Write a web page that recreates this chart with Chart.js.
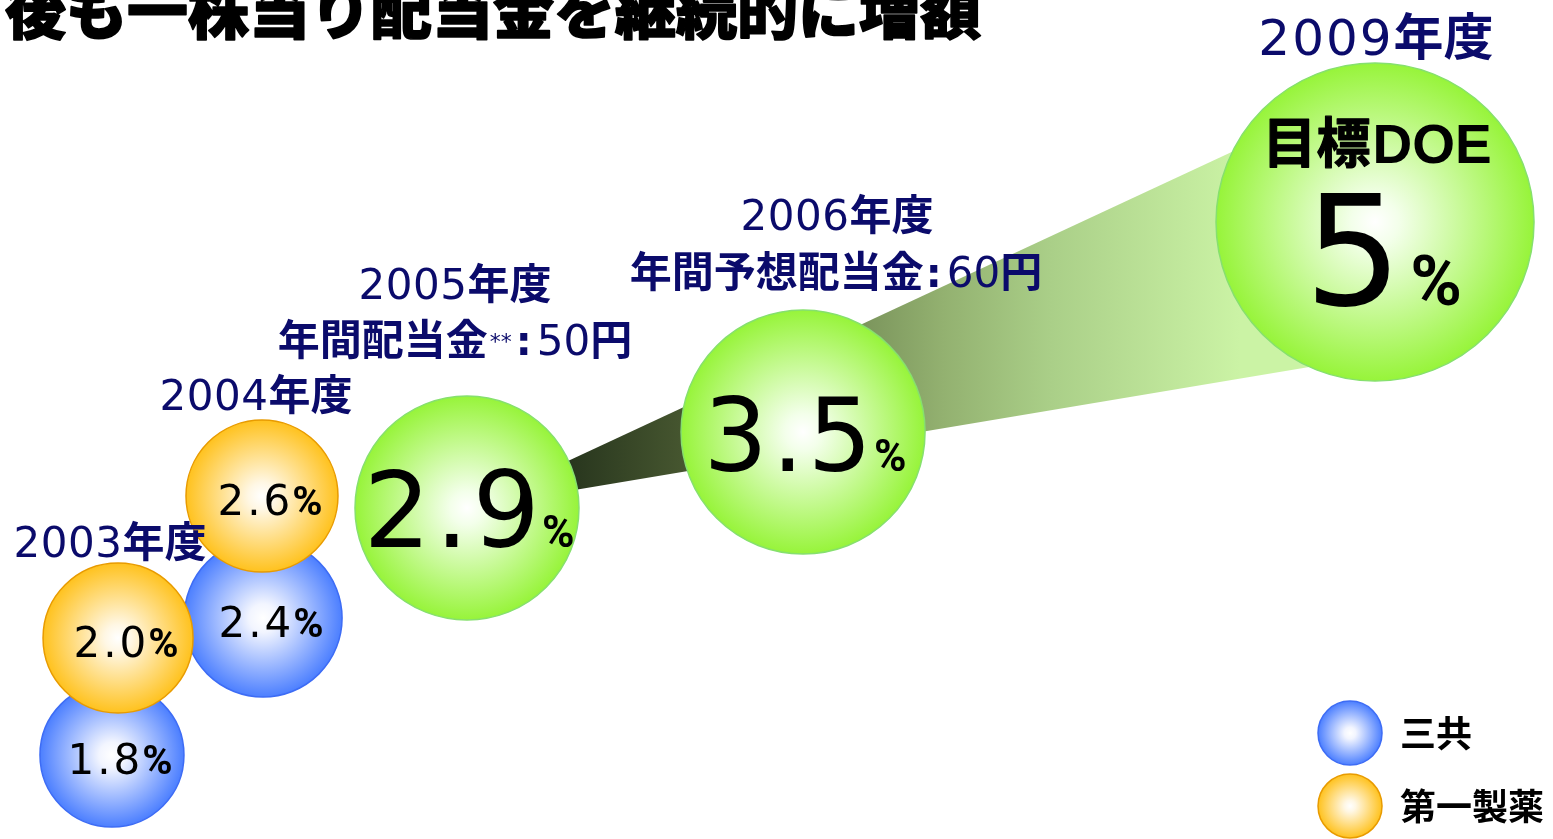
<!DOCTYPE html>
<html><head><meta charset="utf-8">
<script src="https://cdn.jsdelivr.net/npm/chart.js@4"></script>
<style>html,body{margin:0;padding:0;background:#fff;overflow:hidden}#wrap{width:1553px;height:839px;position:relative}</style>
</head><body><div id="wrap"><canvas id="c"></canvas></div>
<script>
// ---------------- data ----------------
const fiscalYears = ['2003', '2004', '2005', '2006', '2009'];
const sankyoDOE = [1.8, 2.4];          // 三共 FY2003, FY2004 (%)
const daiichiDOE = [2.0, 2.6];         // 第一製薬 FY2003, FY2004 (%)
const combinedDOE = [2.9, 3.5, 5];     // FY2005, FY2006, FY2009 target (%)
const seriesNames = ['三共', '第一製薬'];
const dividendLabels = ['年間配当金', '年間予想配当金'];
const dividendYen = [50, 60];
const targetLabel = ['目標', 'DOE'];
const titleText = '後も一株当り配当金を継続的に増額';

// ---------------- layout (percent of plot area, radius in px) ----------------
const sankyoLayout = [{x: 7.21, y: 89.99, r: 72}, {x: 16.94, y: 73.66, r: 79}];
const daiichiLayout = [{x: 7.60, y: 76.04, r: 75}, {x: 16.87, y: 59.12, r: 76}];
const combinedLayout = [{x: 30.07, y: 60.55, r: 112}, {x: 51.71, y: 51.49, r: 122}, {x: 88.54, y: 26.46, r: 159}];
const yearLabelLayout = [{x: 7.08, y: 66.39, s: 42}, {x: 16.48, y: 48.87, s: 42}, {x: 29.30, y: 35.64, s: 42}, {x: 53.90, y: 27.41, s: 42}, {x: 88.60, y: 6.56, s: 50}];
const dividendLayout = [{x: 29.30, y: 42.31}, {x: 53.83, y: 34.21}];
const titleLayout = {x: 0.32, y: 4.05};
const legendLayout = [{x: 86.93, y: 87.37}, {x: 86.93, y: 96.07}];

const NAVY = '#0b0b6b';
const CJK = '"Noto Sans CJK JP"';
const NUM = '"DejaVu Sans"';
const PCT = 'Roboto';
const LAT = '"Liberation Sans"';

const blueStops = [[0, '#ffffff'], [0.18, '#f2f5ff'], [1, '#4c7fff']];
const orangeStops = [[0, '#ffffff'], [0.18, '#fff7e4'], [1, '#ffc21e']];
const greenStops = [[0, '#ffffff'], [0.15, '#f3ffea'], [1, '#97f43a']];

function radial(stops) {
  return (c) => {
    const chart = c.chart, xs = chart.scales.x, ys = chart.scales.y;
    if (c.type !== 'data' || !xs || !ys || !chart.chartArea) return stops[stops.length - 1][1];
    const px = xs.getPixelForValue(c.raw.x), py = ys.getPixelForValue(c.raw.y), r = c.raw.r;
    const g = chart.ctx.createRadialGradient(px, py, 0, px, py, r);
    stops.forEach(s => g.addColorStop(s[0], s[1]));
    return g;
  };
}
function mk(values, layout, kind) {
  return values.map((v, i) => ({x: layout[i].x, y: layout[i].y, r: layout[i].r, v: v, kind: kind}));
}

function drawRuns(ctx, runs, x0, baseline, align) {
  let total = 0;
  runs.forEach(r => { ctx.font = r.font; ctx.letterSpacing = (r.ls || 0) + 'px'; r.w = ctx.measureText(r.text).width; total += r.w + (r.gap || 0); });
  let x = align === 'left' ? x0 : x0 - total / 2;
  ctx.textAlign = 'left'; ctx.textBaseline = 'alphabetic';
  runs.forEach(r => {
    ctx.font = r.font; ctx.letterSpacing = (r.ls || 0) + 'px'; ctx.fillStyle = r.color || '#000';
    if (r.stroke) { ctx.lineWidth = r.stroke; ctx.strokeStyle = r.color || '#000'; ctx.lineJoin = 'round'; ctx.strokeText(r.text, x, baseline + (r.dy || 0)); }
    ctx.fillText(r.text, x, baseline + (r.dy || 0));
    x += r.w + (r.gap || 0);
  });
  ctx.letterSpacing = '0px';
}

const conePlugin = {
  id: 'cone',
  beforeDatasetsDraw(chart) {
    const ctx = chart.ctx, xs = chart.scales.x, ys = chart.scales.y;
    const a = combinedLayout[0], b = combinedLayout[2];
    const ax = xs.getPixelForValue(a.x), ay = ys.getPixelForValue(a.y);
    const bx = xs.getPixelForValue(b.x), by = ys.getPixelForValue(b.y);
    const hw = b.r * 0.86;
    const x1 = ax + a.r * 0.88, x2 = bx - b.r * 0.85;
    const g = ctx.createLinearGradient(x1, 0, x2, 0);
    g.addColorStop(0, '#27351d');
    g.addColorStop(0.17, '#45552f');
    g.addColorStop(0.56, '#93b170');
    g.addColorStop(0.72, '#aacf88');
    g.addColorStop(1, '#cbf3a5');
    ctx.save();
    ctx.beginPath();
    ctx.moveTo(ax, ay);
    ctx.lineTo(bx, by - hw);
    ctx.lineTo(bx, by + hw * 0.98);
    ctx.closePath();
    ctx.fillStyle = g;
    ctx.fill();
    ctx.restore();
  }
};

const textPlugin = {
  id: 'texts',
  afterDatasetsDraw(chart) {
    const ctx = chart.ctx, xs = chart.scales.x, ys = chart.scales.y;
    const X = v => xs.getPixelForValue(v), Y = v => ys.getPixelForValue(v);
    ctx.save();
    // title
    drawRuns(ctx, [{text: titleText, font: `900 61px ${CJK}`, color: '#000', stroke: 1.6}], X(titleLayout.x), Y(titleLayout.y), 'left');
    // year labels
    fiscalYears.forEach((yr, i) => {
      const L = yearLabelLayout[i];
      drawRuns(ctx, [
        {text: yr, font: `400 ${L.s}px ${NUM}`, color: NAVY, ls: L.s > 45 ? 2 : 0.5},
        {text: '年度', font: `700 ${L.s}px ${CJK}`, color: NAVY}
      ], X(L.x), Y(L.y), 'center');
    });
    // dividend lines
    const d0 = dividendLayout[0], d1 = dividendLayout[1];
    drawRuns(ctx, [
      {text: dividendLabels[0], font: `700 42px ${CJK}`, color: NAVY, gap: 2},
      {text: '**', font: `400 22px ${NUM}`, color: NAVY, dy: -6, gap: 4},
      {text: ':', font: `700 40px ${NUM}`, color: NAVY, gap: 5},
      {text: String(dividendYen[0]), font: `400 42px ${NUM}`, color: NAVY},
      {text: '円', font: `700 42px ${CJK}`, color: NAVY}
    ], X(d0.x), Y(d0.y), 'center');
    drawRuns(ctx, [
      {text: dividendLabels[1], font: `700 42px ${CJK}`, color: NAVY, gap: 2},
      {text: ':', font: `700 40px ${NUM}`, color: NAVY, gap: 5},
      {text: String(dividendYen[1]), font: `400 42px ${NUM}`, color: NAVY},
      {text: '円', font: `700 42px ${CJK}`, color: NAVY}
    ], X(d1.x), Y(d1.y), 'center');
    // bubble value labels
    chart.data.datasets.forEach((ds, di) => {
      const meta = chart.getDatasetMeta(di);
      meta.data.forEach((el, i) => {
        const d = ds.data[i];
        const cx = el.x, cy = el.y;
        const val = d.v.toFixed(d.v === 5 ? 0 : 1);
        if (d.kind === 'small') {
          drawRuns(ctx, [
            {text: val, font: `400 42px ${NUM}`, color: '#000', ls: 3, gap: -1},
            {text: '%', font: `700 41px ${PCT}`, color: '#000'}
          ], cx + 8, cy + 19, 'center');
        } else if (d.v < 5) {
          drawRuns(ctx, [
            {text: val, font: `400 ${d.v < 3 ? 106 : 101}px ${NUM}`, color: '#000', ls: 4, gap: -2},
            {text: '%', font: `700 44px ${PCT}`, color: '#000'}
          ], cx + 2, cy + 39, 'center');
        } else {
          drawRuns(ctx, [
            {text: targetLabel[0], font: `700 54px ${CJK}`, color: '#000', stroke: 1.2, gap: 2},
            {text: targetLabel[1], font: `700 55px ${LAT}`, color: '#000'}
          ], cx + 2, cy - 59, 'center');
          drawRuns(ctx, [
            {text: val, font: `400 154px ${NUM}`, color: '#000', gap: 8},
            {text: '%', font: `700 70px ${PCT}`, color: '#000'}
          ], cx + 8, cy + 83, 'center');
        }
      });
    });
    // legend
    const legendStops = [blueStops, orangeStops];
    const legendBorders = ['#3d6cf5', '#e89b00'];
    legendLayout.forEach((L, i) => {
      const px = X(L.x), py = Y(L.y), r = 32;
      const g = ctx.createRadialGradient(px, py, 0, px, py, r);
      legendStops[i].forEach(s => g.addColorStop(s[0], s[1]));
      ctx.beginPath(); ctx.arc(px, py, r, 0, Math.PI * 2);
      ctx.fillStyle = g; ctx.fill();
      ctx.lineWidth = 1.5; ctx.strokeStyle = legendBorders[i]; ctx.stroke();
      drawRuns(ctx, [{text: seriesNames[i], font: `700 36px ${CJK}`, color: '#000'}], px + 50, py + 14, 'left');
    });
    ctx.restore();
  }
};

new Chart(document.getElementById('c'), {
  type: 'bubble',
  data: {
    datasets: [
      {label: seriesNames[1], data: mk(daiichiDOE, daiichiLayout, 'small'), backgroundColor: radial(orangeStops), borderColor: '#e89b00', borderWidth: 1.5, order: 0, clip: false},
      {label: seriesNames[0], data: mk(sankyoDOE, sankyoLayout, 'small'), backgroundColor: radial(blueStops), borderColor: '#3d6cf5', borderWidth: 1.5, order: 1, clip: false},
      {label: '共同', data: mk(combinedDOE, combinedLayout, 'big'), backgroundColor: radial(greenStops), borderColor: '#86e06e', borderWidth: 1.5, order: 2, clip: false}
    ]
  },
  options: {
    responsive: true, maintainAspectRatio: false, animation: false, events: [],
    layout: {padding: 0, autoPadding: false},
    plugins: {legend: {display: false}, tooltip: {enabled: false}},
    scales: {
      x: {type: 'linear', min: 0, max: 100, display: false},
      y: {type: 'linear', min: 0, max: 100, reverse: true, display: false}
    }
  },
  plugins: [conePlugin, textPlugin]
});
</script>
</body></html>
